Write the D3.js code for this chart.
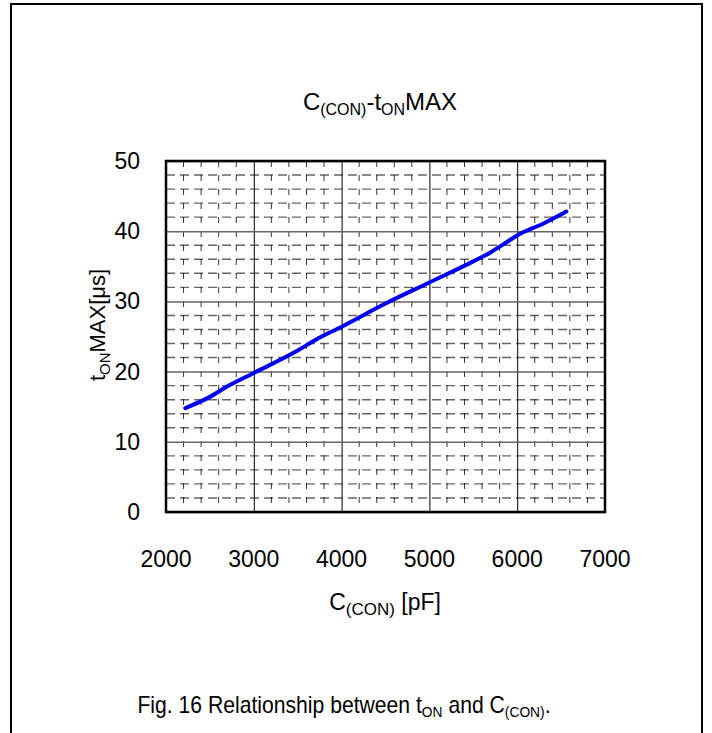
<!DOCTYPE html>
<html>
<head>
<meta charset="utf-8">
<style>
  body { margin: 0; background: #fff; }
  svg text { font-family: "Liberation Sans", Arial, sans-serif; fill: #000; }
</style>
</head>
<body>
<svg id="chart" width="712" height="733"></svg>
<script src="https://d3js.org/d3.v7.min.js"></script>
<script>
// values
var capacitance = [2220, 2500, 2700, 3000, 3500, 3700, 4000, 4500, 5000, 5500, 5700, 5850, 6000, 6300, 6560];
var tonMax      = [14.8, 16.4, 17.9, 19.8, 23.0, 24.5, 26.4, 29.7, 32.7, 35.7, 37.0, 38.2, 39.4, 41.1, 42.8];
var xTicks = [2000, 3000, 4000, 5000, 6000, 7000];
var yTicks = [0, 10, 20, 30, 40, 50];
var xMinor = d3.range(2200, 7000, 200).filter(function(v) { return v % 1000 != 0; });
var yMinor = d3.range(2, 50, 2).filter(function(v) { return v % 10 != 0; });

var svg = d3.select("#chart");
var pLeft = 166, pRight = 605, pTop = 161, pBottom = 512;

var x = d3.scaleLinear().domain([2000, 7000]).range([pLeft, pRight]);
var y = d3.scaleLinear().domain([0, 50]).range([pBottom, pTop]);

// outer frame
svg.append("rect")
  .attr("x", 11).attr("y", 4).attr("width", 691).attr("height", 760)
  .attr("fill", "none").attr("stroke", "#000").attr("stroke-width", 2);

var g = svg.append("g");

// minor grid
g.selectAll(".hminor").data(yMinor).enter().append("line")
  .attr("x1", pLeft).attr("x2", pRight)
  .attr("y1", function(d) { return y(d); }).attr("y2", function(d) { return y(d); })
  .attr("stroke", "#666").attr("stroke-width", 1.4).attr("stroke-dasharray", "9,5");

g.selectAll(".vminor").data(xMinor).enter().append("line")
  .attr("y1", pTop).attr("y2", pBottom)
  .attr("x1", function(d) { return x(d); }).attr("x2", function(d) { return x(d); })
  .attr("stroke", "#000").attr("stroke-width", 0.8).attr("stroke-dasharray", "6,8");

// major grid via axes
g.append("g")
  .attr("transform", "translate(0," + pBottom + ")")
  .call(d3.axisBottom(x).tickValues(xTicks).tickSize(-(pBottom - pTop)).tickFormat(""))
  .call(function(s) { s.select(".domain").remove(); s.selectAll("line").attr("stroke", "#000").attr("stroke-width", 1); });

g.append("g")
  .attr("transform", "translate(" + pLeft + ",0)")
  .call(d3.axisLeft(y).tickValues(yTicks).tickSize(-(pRight - pLeft)).tickFormat(""))
  .call(function(s) { s.select(".domain").remove(); s.selectAll("line").attr("stroke", "#666").attr("stroke-width", 1.5); });

// plot border
g.append("rect")
  .attr("x", pLeft).attr("y", pTop).attr("width", pRight - pLeft).attr("height", pBottom - pTop)
  .attr("fill", "none").attr("stroke", "#000").attr("stroke-width", 2.5);

// tick labels
svg.selectAll(".xlab").data(xTicks).enter().append("text")
  .attr("x", function(d) { return x(d); }).attr("y", pBottom + 55)
  .attr("text-anchor", "middle").attr("font-size", 23)
  .text(function(d) { return d; });

svg.selectAll(".ylab").data(yTicks).enter().append("text")
  .attr("x", pLeft - 26).attr("y", function(d) { return y(d) + 8; })
  .attr("text-anchor", "end").attr("font-size", 23)
  .text(function(d) { return d; });

// curve
var line = d3.line()
  .x(function(d, i) { return x(capacitance[i]); })
  .y(function(d) { return y(d); })
  .curve(d3.curveMonotoneX);

svg.append("path")
  .datum(tonMax)
  .attr("d", line)
  .attr("fill", "none").attr("stroke", "#0000ee").attr("stroke-width", 4)
  .attr("stroke-linecap", "round");

// title
var title = svg.append("text").attr("x", 380).attr("y", 110)
  .attr("text-anchor", "middle").attr("font-size", 24);
title.append("tspan").text("C");
title.append("tspan").attr("font-size", 16).attr("dy", 5).text("(CON)");
title.append("tspan").attr("dy", -5).text("-t");
title.append("tspan").attr("font-size", 16).attr("dy", 5).text("ON");
title.append("tspan").attr("dy", -5).text("MAX");

// x label
var xl = svg.append("text").attr("x", 385).attr("y", 610)
  .attr("text-anchor", "middle").attr("font-size", 23);
xl.append("tspan").text("C");
xl.append("tspan").attr("font-size", 17).attr("dy", 5).text("(CON)");
xl.append("tspan").attr("dy", -5).text(" [pF]");

// y label
var yl = svg.append("text").attr("transform", "translate(105,325) rotate(-90)")
  .attr("text-anchor", "middle").attr("font-size", 22);
yl.append("tspan").text("t");
yl.append("tspan").attr("font-size", 15).attr("dy", 5).text("ON");
yl.append("tspan").attr("dy", -5).text("MAX[μs]");

// caption (the original font is a bit narrow)
var cap = svg.append("text").attr("transform", "translate(344,713) scale(0.92,1)")
  .attr("text-anchor", "middle").attr("font-size", 23);
cap.append("tspan").text("Fig. 16 Relationship between t");
cap.append("tspan").attr("font-size", 15).attr("dy", 4).text("ON");
cap.append("tspan").attr("dy", -4).text(" and C");
cap.append("tspan").attr("font-size", 15).attr("dy", 4).text("(CON)");
cap.append("tspan").attr("dy", -4).text(".");
</script>
</body>
</html>
